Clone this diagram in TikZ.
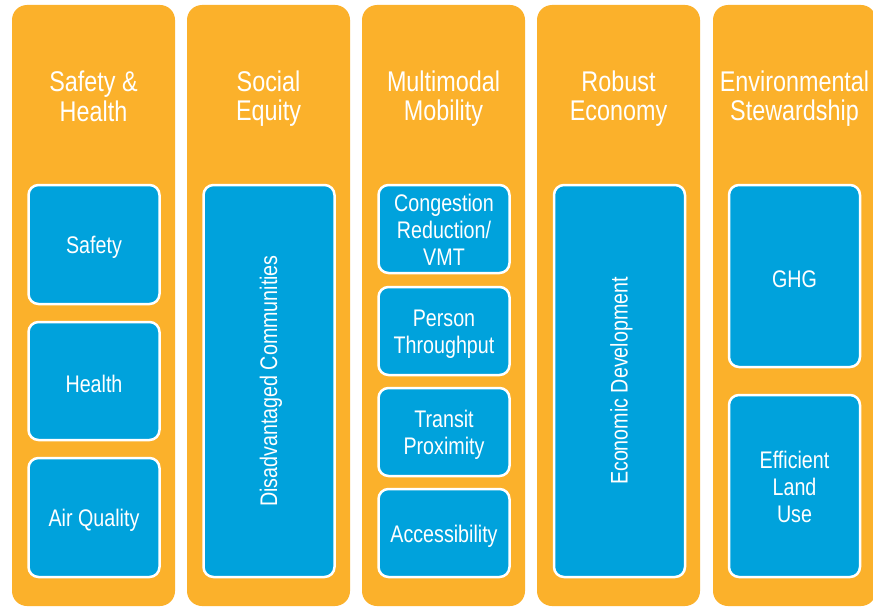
\documentclass[tikz,border=0pt]{standalone}
\usepackage{fontspec}
\setmainfont{Liberation Sans}[FakeStretch=0.82]
\definecolor{colorange}{HTML}{FBB12B}
\definecolor{boxblue}{HTML}{00A2DC}
\begin{document}
\begin{tikzpicture}[x=1pt,y=-1pt,
  col/.style={fill=colorange,draw=none,rounded corners=15pt,minimum width=163pt,minimum height=601pt,inner sep=0pt},
  ttl/.style={text=white,align=center,font=\fontsize{28.5}{29.5}\selectfont,inner sep=0pt},
  bx/.style={fill=boxblue,draw=white,line width=2.5pt,rounded corners=10pt,minimum width=131pt,inner sep=0pt},
  txt/.style={text=white,align=center,font=\fontsize{24}{26.7}\selectfont,inner sep=0pt,yshift=-3pt},
  mtxt/.style={txt,yshift=2pt},
  rtxt/.style={text=white,font=\fontsize{24}{27}\selectfont,inner sep=0pt,rotate=90,xshift=0pt,yshift=-2pt}]
\useasboundingbox (0,0) rectangle (873,607);
\fill[white] (0,0) rectangle (873,607);
% columns
\node[col] (c1) at (93.5,305.5) {};
\node[col] (c2) at (268.5,305.5) {};
\node[col] (c3) at (443.5,305.5) {};
\node[col] (c4) at (618.5,305.5) {};
\node[col] (c5) at (794.5,305.5) {};
% titles
\node[ttl] (t1) at (93.5,96.5) {Safety \&\\Health};
\node[ttl] (t2) at (268.5,98.5) {Social\\Equity};
\node[ttl] (t3) at (443.5,98.5) {Multimodal\\Mobility};
\node[ttl] (t4) at (618.5,98.5) {Robust\\Economy};
\node[ttl] (t5) at (794.5,98.5) {Environmental\\Stewardship};
% column 1
\node[bx,minimum height=119pt,label={[txt]center:Safety}] (b11) at (94,244.5) {};
\node[bx,minimum height=118pt,label={[txt]center:Health}] (b12) at (94,381) {};
\node[bx,minimum height=119pt,label={[txt]center:Air Quality}] (b13) at (94,517.5) {};
% column 2
\node[bx,minimum height=392pt] (b21) at (269,381) {};
\node[rtxt] (l21) at (b21.center) {Disadvantaged Communities};
% column 3
\node[bx,minimum height=88pt,label={[mtxt]center:{Congestion\\Reduction/\\VMT}}] (b31) at (444,229) {};
\node[bx,minimum height=88pt,label={[txt]center:{Person\\Throughput}}] (b32) at (444,331) {};
\node[bx,minimum height=88pt,label={[txt]center:{Transit\\Proximity}}] (b33) at (444,432) {};
\node[bx,minimum height=88pt,label={[txt]center:Accessibility}] (b34) at (444,533) {};
% column 4
\node[bx,minimum height=392pt] (b41) at (619.5,381) {};
\node[rtxt] (l41) at (b41.center) {Economic Development};
% column 5
\node[bx,minimum height=182pt,label={[txt]center:GHG}] (b51) at (794.5,276) {};
\node[bx,minimum height=182pt,label={[mtxt]center:{Efficient\\Land\\Use}}] (b52) at (794.5,486) {};
\end{tikzpicture}
\end{document}
